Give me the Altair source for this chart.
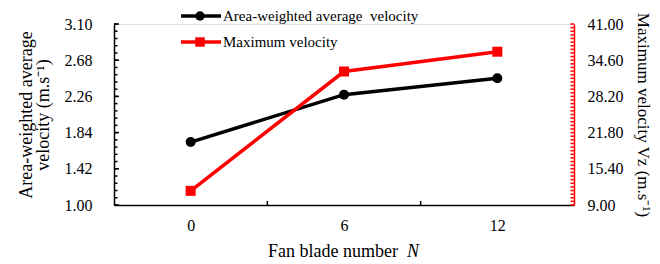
import altair as alt
import pandas as pd

# ---- data ----
N = [0, 6, 12]
avg_velocity = [1.73, 2.28, 2.47]
max_velocity = [11.5, 32.6, 36.1]

left_major = [1.00, 1.42, 1.84, 2.26, 2.68, 3.10]
right_major = [9.00, 15.40, 21.80, 28.20, 34.60, 41.00]
x_labels = [0, 6, 12]
x_ticks = [3, 9]

left_minor = [round(1.0 + 0.084 * i, 3) for i in range(26)]
right_minor = [round(9.0 + 0.64 * i, 3) for i in range(51)]

legend_labels = ["Area-weighted average\u00a0 velocity", "Maximum velocity"]

FONT = "Liberation Serif, Times New Roman, serif"
RED = "#FF0000"
W, H = 460, 181

df = pd.DataFrame({"N": N, "avg": avg_velocity, "max": max_velocity})

xscale = alt.Scale(domain=[-3, 15], nice=False, zero=False)
lscale = alt.Scale(domain=[1.0, 3.1], nice=False, zero=False)
rscale = alt.Scale(domain=[9.0, 41.0], nice=False, zero=False)

xaxis = alt.Axis(values=x_labels, format="d", ticks=False, title=None,
                 labelFontSize=16, labelPadding=12, domainColor="black",
                 domainWidth=1.5, grid=False, labelColor="black", labelFont=FONT)
laxis = alt.Axis(values=left_major, format=".2f", ticks=False,
                 labelFontSize=16, labelPadding=22, labelColor="black", labelFont=FONT,
                 title=["Area-weighted average", "velocity (m.s\u207b\u00b9)"],
                 titleFont=FONT,
                 titleFontSize=18, titleFontWeight="normal", titleColor="black",
                 titlePadding=12, titleLineHeight=17,
                 domainColor="black", domainWidth=1.5, grid=False)
raxis = alt.Axis(values=right_major, format=".2f", ticks=False, orient="right",
                 labelFontSize=16, labelPadding=13, labelColor="black", labelFont=FONT,
                 title="Maximum velocity  Vz (m.s\u207b\u00b9)",
                 titleFont=FONT,
                 titleFontSize=17, titleFontWeight="normal", titleColor="black",
                 titlePadding=10,
                 domainColor=RED, domainWidth=1.5, grid=False)

black_line = alt.Chart(df).mark_line(
    color="black", strokeWidth=3.5,
    point=alt.OverlayMarkDef(filled=True, size=100, color="black", shape="circle")
).encode(
    x=alt.X("N:Q", scale=xscale, axis=xaxis),
    y=alt.Y("avg:Q", scale=lscale, axis=laxis),
)

lmaj = alt.Chart(pd.DataFrame({"v": left_major})).mark_rule(color="black", strokeWidth=1.5).encode(
    y=alt.Y("v:Q", scale=lscale, axis=laxis), x=alt.value(0), x2=alt.value(5))
lmin = alt.Chart(pd.DataFrame({"v": left_minor})).mark_rule(color="black", strokeWidth=1.5).encode(
    y=alt.Y("v:Q", scale=lscale, axis=laxis), x=alt.value(0), x2=alt.value(3.5))
xt = alt.Chart(pd.DataFrame({"v": x_ticks})).mark_rule(color="black", strokeWidth=1.5).encode(
    x=alt.X("v:Q", scale=xscale, axis=xaxis), y=alt.value(H), y2=alt.value(H - 4))

left_group = alt.layer(lmin, lmaj, xt, black_line)

red_line = alt.Chart(df).mark_line(
    color=RED, strokeWidth=3.5,
    point=alt.OverlayMarkDef(filled=True, size=100, color=RED, shape="square")
).encode(
    x=alt.X("N:Q", scale=xscale, axis=xaxis),
    y=alt.Y("max:Q", scale=rscale, axis=raxis),
)
rmin = alt.Chart(pd.DataFrame({"v": right_minor})).mark_rule(color=RED, strokeWidth=1.5).encode(
    y=alt.Y("v:Q", scale=rscale, axis=raxis), x=alt.value(W), x2=alt.value(W - 3.5))

right_group = alt.layer(rmin, red_line)

one = pd.DataFrame({"a": [0]})
ROW1, ROW2 = -8, 18
leg = []
for row_y, color, shape, label in [(ROW1, "black", "circle", legend_labels[0]),
                                   (ROW2, RED, "square", legend_labels[1])]:
    leg.append(alt.Chart(one).mark_rule(color=color, strokeWidth=3.5).encode(
        x=alt.value(67), x2=alt.value(107), y=alt.value(row_y)))
    leg.append(alt.Chart(one).mark_point(filled=True, color=color, shape=shape, size=90, opacity=1).encode(
        x=alt.value(86), y=alt.value(row_y)))
    leg.append(alt.Chart(one).mark_text(font=FONT, fontSize=15, align="left", baseline="middle",
                                        color="black").encode(
        x=alt.value(109), y=alt.value(row_y), text=alt.value(label)))

xtitle1 = alt.Chart(one).mark_text(font=FONT, fontSize=18, align="right", baseline="middle",
                                   color="black").encode(
    x=alt.value(284), y=alt.value(228), text=alt.value("Fan blade number"))
xtitle2 = alt.Chart(one).mark_text(font=FONT, fontSize=18, align="left", baseline="middle",
                                   fontStyle="italic", color="black").encode(
    x=alt.value(293), y=alt.value(228), text=alt.value("N"))

chart = alt.layer(left_group, right_group, *leg, xtitle1, xtitle2).resolve_scale(
    y="independent"
).properties(
    width=W, height=H,
    autosize=alt.AutoSizeParams(type="none"),
    padding={"left": 106, "top": 16, "right": 78, "bottom": 70},
).configure_view(stroke=None).configure(background="white")

chart.save("out.html", embed_options={"renderer": "svg", "actions": False})
